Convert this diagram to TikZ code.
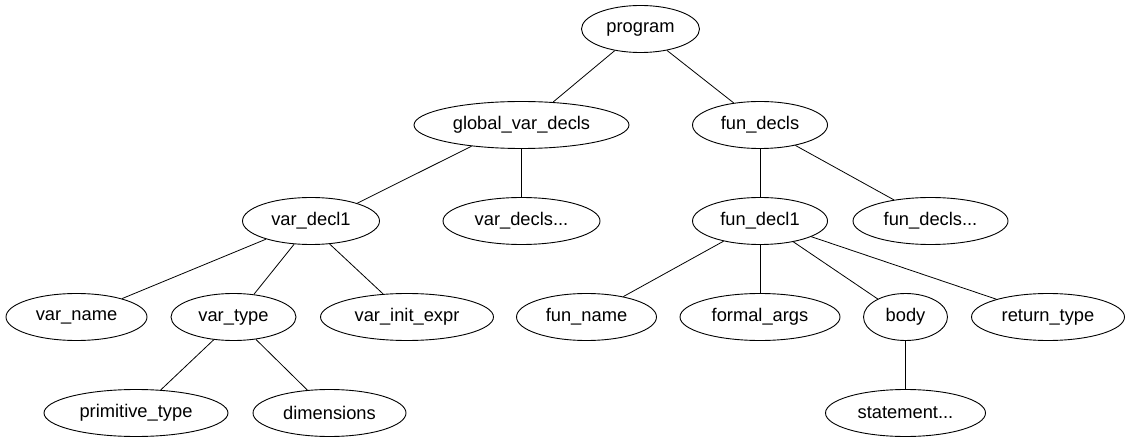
\documentclass[tikz,border=0pt]{standalone}
\usepackage{fontspec}
\setmainfont{Liberation Sans}
\usetikzlibrary{shapes.geometric}
\begin{document}
\begin{tikzpicture}[x=1pt,y=-1pt,
  tn/.style={ellipse,draw,line width=0.9pt,inner sep=0pt,minimum height=47pt,font=\fontsize{18.3}{20}\selectfont},
  ed/.style={draw,line width=0.8pt}]
\useasboundingbox (0,0) rectangle (1131,443);
\node[tn,minimum width=118pt] (program) at (640.5,29) {program};
\node[tn,minimum width=215pt] (gvd) at (521.5,125) {global\_var\_decls};
\node[tn,minimum width=135pt] (fds) at (760,125) {fun\_decls};
\node[tn,minimum width=137pt] (vd1) at (311,221) {var\_decl1};
\node[tn,minimum width=157pt] (vds) at (521.5,221) {var\_decls...};
\node[tn,minimum width=135pt] (fd1) at (760,221) {fun\_decl1};
\node[tn,minimum width=155pt] (fdsm) at (930.5,221) {fun\_decls...};
\node[tn,minimum width=141pt] (vname) at (76.5,317) {var\_name};
\node[tn,minimum width=125pt] (vtype) at (233.5,317) {var\_type};
\node[tn,minimum width=173pt] (vinit) at (407,317) {var\_init\_expr};
\node[tn,minimum width=140pt] (fname) at (586.5,317) {fun\_name};
\node[tn,minimum width=160pt] (fargs) at (760,317) {formal\_args};
\node[tn,minimum width=84pt] (body) at (905.5,317) {body};
\node[tn,minimum width=153pt] (rtype) at (1048,317) {return\_type};
\node[tn,minimum width=184pt] (ptype) at (136,413) {primitive\_type};
\node[tn,minimum width=153pt] (dims) at (329.5,413) {dimensions};
\node[tn,minimum width=160pt] (stmt) at (905.5,413) {statement...};
\path[ed] (program.-140) -- (gvd.36.4);
\path[ed] (program.-39.6) -- (fds.140.1);
\path[ed] (gvd.-157) -- (vd1.21.9);
\path[ed] (gvd) -- (vds);
\path[ed] (fds) -- (fd1);
\path[ed] (fds.-30.8) -- (fdsm.150.6);
\path[ed] (vd1.-158.3) -- (vname.22.7);
\path[ed] (vd1.-126.8) -- (vtype.48.4);
\path[ed] (vd1.-51.3) -- (vinit.136.2);
\path[ed] (fd1.-151.4) -- (fname.29.4);
\path[ed] (fd1) -- (fargs);
\path[ed] (fd1.-32.2) -- (body.147.5);
\path[ed] (fd1.-17.9) -- (rtype.161.9);
\path[ed] (vtype.-131.9) -- (ptype.43.8);
\path[ed] (vtype.-45.6) -- (dims.134.4);
\path[ed] (body) -- (stmt);
\end{tikzpicture}
\end{document}
